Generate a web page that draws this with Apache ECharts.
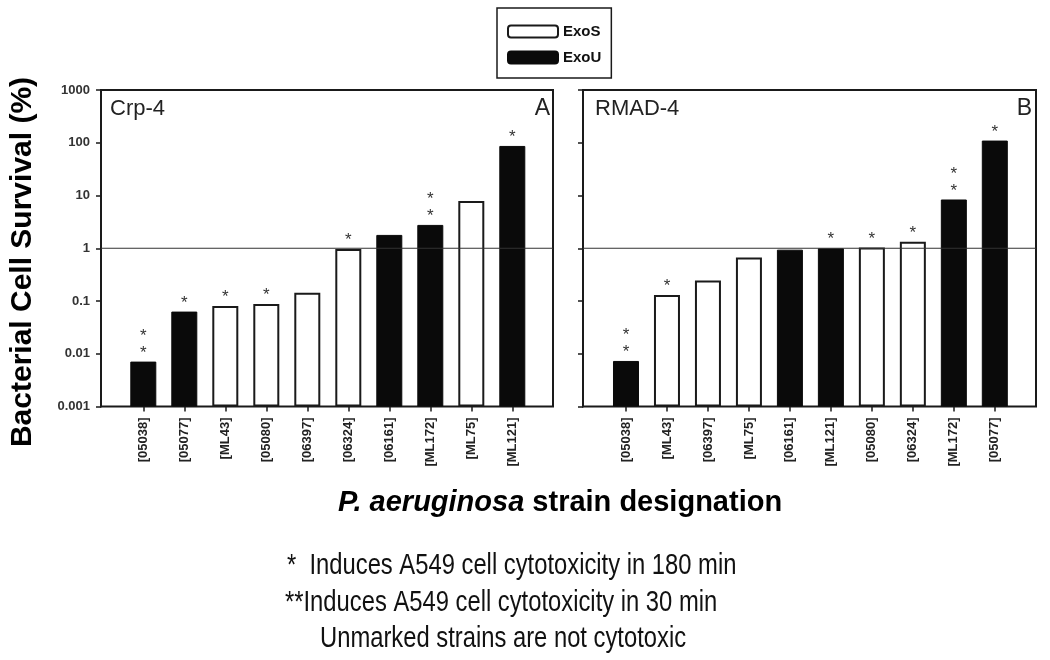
<!DOCTYPE html>
<html>
<head>
<meta charset="utf-8">
<script src="https://cdn.jsdelivr.net/npm/echarts@6/dist/echarts.min.js"></script>
<style>
html,body{margin:0;padding:0;background:#fff;}
#chart{width:1050px;height:660px;}
</style>
</head>
<body>
<div id="chart"></div>
<script>
// ---- data ----
const catsA  = ['[05038]','[05077]','[ML43]','[05080]','[06397]','[06324]','[06161]','[ML172]','[ML75]','[ML121]'];
const valsA  = [0.0071, 0.063, 0.080, 0.088, 0.144, 0.97, 1.79, 2.77, 7.9, 87];
const typeA  = ['U','U','S','S','S','S','U','U','S','U'];
const marksA = ['**','*','*','*','','*','','**','','*'];

const catsB  = ['[05038]','[ML43]','[06397]','[ML75]','[06161]','[ML121]','[05080]','[06324]','[ML172]','[05077]'];
const valsB  = [0.0073, 0.13, 0.246, 0.67, 0.94, 1.0, 1.03, 1.33, 8.4, 110];
const typeB  = ['U','S','S','S','U','U','S','S','U','U'];
const marksB = ['**','*','','','','*','*','*','**','*'];

const panelNames = ['Crp-4','RMAD-4'];
const panelLetters = ['A','B'];
const seriesNames = {S:'ExoS', U:'ExoU'};
const refValue = 1;
const yMin = 0.001, yMax = 1000;
const yTitle = 'Bacterial Cell Survival (%)';
const xTitleItalic = 'P. aeruginosa';
const xTitleRest = ' strain designation';
const notes = ['*  Induces A549 cell cytotoxicity in 180 min',
               '**Induces A549 cell cytotoxicity in 30 min',
               'Unmarked strains are not cytotoxic'];

// ---- styles ----
const FF = '"Liberation Sans", Arial, sans-serif';
const NARROW = '"Liberation Sans Narrow", "Arial Narrow", "Liberation Sans", sans-serif';
const dark = '#1a1a1a';

const chart = echarts.init(document.getElementById('chart'), null, {renderer:'canvas'});

const frames = [
  {left:101, top:90, width:452, height:316.5},
  {left:583, top:90, width:453, height:316.5}
];
const barGrids = [
  {left:122.8, top:90, width:410, height:316.5},
  {left:605.5, top:90, width:409.8, height:316.5}
];

const grid = [], xAxis = [], yAxis = [], series = [];
const panels = [
  {cats:catsA, vals:valsA, types:typeA, marks:marksA},
  {cats:catsB, vals:valsB, types:typeB, marks:marksB}
];

panels.forEach((p, k) => {
  const fi = grid.length;
  grid.push(Object.assign({show:true, borderColor:dark, borderWidth:2, backgroundColor:'transparent'}, frames[k]));
  const bi = grid.length;
  grid.push(Object.assign({show:false}, barGrids[k]));

  xAxis.push({gridIndex:fi, type:'value', min:0, max:1, show:false});
  xAxis.push({
    gridIndex:bi, type:'category', data:p.cats, position:'bottom',
    axisLine:{show:false},
    axisTick:{show:true, alignWithLabel:true, length:5, lineStyle:{color:dark, width:1.5}},
    axisLabel:{rotate:90, margin:11, fontSize:13, fontFamily:NARROW, fontWeight:'bold', color:'#222'}
  });

  yAxis.push({
    gridIndex:fi, type:'log', logBase:10, min:yMin, max:yMax,
    axisLine:{show:true, lineStyle:{color:dark, width:2}},
    axisTick:{show:true, inside:false, length:5, lineStyle:{color:dark, width:1.5}},
    splitLine:{show:false}, minorTick:{show:false},
    axisLabel:{show:k===0, margin:11, fontSize:13, fontWeight:'bold', fontFamily:FF, color:'#333',
      formatter: v => String(parseFloat(Number(v).toPrecision(6)))}
  });
  yAxis.push({gridIndex:bi, type:'log', logBase:10, min:yMin, max:yMax, startValue:yMin, show:false, splitLine:{show:false}});

  // reference line at 1
  series.push({
    type:'line', name:'ref'+k, xAxisIndex:fi, yAxisIndex:fi,
    data:[[0, refValue],[1, refValue]], symbol:'none', silent:true,
    lineStyle:{color:'#333', width:1}, animation:false
  });

  ['S','U'].forEach(t => {
    series.push({
      type:'bar', name:seriesNames[t], xAxisIndex:bi, yAxisIndex:bi,
      barWidth:26, barGap:'-100%',
      data:p.vals.map((v,i) => p.types[i]===t ? v : '-'),
      itemStyle: t==='S' ? {color:'#fff', borderColor:dark, borderWidth:2} : {color:'#0a0a0a', borderColor:'#0a0a0a', borderWidth:1},
      label:{
        show:true, position:'top', distance:0, fontSize:17, lineHeight:17, fontFamily:FF, color:'#333',
        formatter: prm => p.marks[prm.dataIndex].split('').join('\n')
      },
      animation:false
    });
  });
});

const graphic = [
  {type:'text', x:23, y:262, rotation:Math.PI/2,
   style:{text:yTitle, fontSize:30, fontWeight:'bold', fontFamily:FF, fill:'#000', align:'center', verticalAlign:'middle'}},
  {type:'text', x:560, y:503,
   style:{text:'{i|'+xTitleItalic+'}'+xTitleRest, fontSize:29, fontWeight:'bold', fontFamily:FF, fill:'#000',
          align:'center', verticalAlign:'middle',
          rich:{i:{fontStyle:'italic', fontWeight:'bold', fontSize:29, fontFamily:FF, fill:'#000'}}}},
  {type:'text', x:110, y:109, style:{text:panelNames[0], fontSize:22, fontFamily:FF, fill:'#222', verticalAlign:'middle'}},
  {type:'text', x:550, y:109, style:{text:panelLetters[0], fontSize:23, fontFamily:FF, fill:'#222', align:'right', verticalAlign:'middle'}},
  {type:'text', x:595, y:109, style:{text:panelNames[1], fontSize:22, fontFamily:FF, fill:'#222', verticalAlign:'middle'}},
  {type:'text', x:1032, y:109, style:{text:panelLetters[1], fontSize:23, fontFamily:FF, fill:'#222', align:'right', verticalAlign:'middle'}}
];
const noteX = [287, 285, 320], noteY = [566, 603, 639];
notes.forEach((n,i) => {
  graphic.push({type:'text', x:noteX[i], y:noteY[i], scaleX:0.82,
    style:{text:n, fontSize:29, fontFamily:FF, fill:'#111', verticalAlign:'middle'}});
});

chart.setOption({
  backgroundColor:'#fff',
  animation:false,
  legend:{
    data:['ExoS','ExoU'], orient:'vertical', left:497, top:8,
    padding:[16, 10, 13, 10], itemWidth:50, itemHeight:12, itemGap:11,
    icon:'roundRect', borderColor:dark, borderWidth:1.5,
    textStyle:{fontSize:15, fontWeight:'bold', fontFamily:FF, color:'#111'},
    selectedMode:false
  },
  grid, xAxis, yAxis, series, graphic
});
</script>
</body>
</html>
